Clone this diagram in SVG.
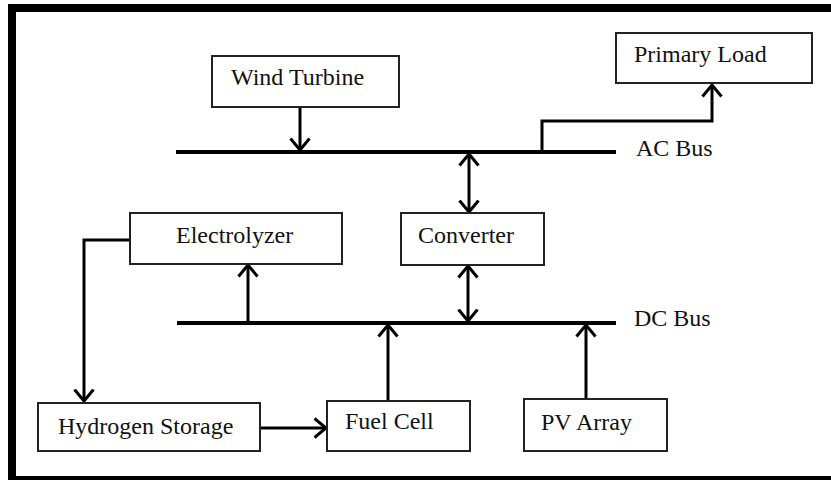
<svg xmlns="http://www.w3.org/2000/svg" width="831" height="480" viewBox="0 0 831 480">
<defs>
<style>
.box{fill:#fff;stroke:#222;stroke-width:2}
.lbl{font-family:"Liberation Serif","Times New Roman",serif;font-size:24px;fill:#111}
.ln{fill:none;stroke:#000;stroke-width:3}
.bus{fill:none;stroke:#000;stroke-width:4}
</style>
<marker id="ah" viewBox="0 0 14 22" refX="12.5" refY="11" markerWidth="14" markerHeight="22" orient="auto-start-reverse" markerUnits="userSpaceOnUse">
<path d="M1 1.5 L12.5 11 L1 20.5" fill="none" stroke="#000" stroke-width="3"/>
</marker>
</defs>
<rect width="831" height="480" fill="#fff"/>
<rect x="12" y="8" width="830" height="472" fill="none" stroke="#000" stroke-width="8"/>

<g id="connectors">
<line class="bus" x1="176" y1="152" x2="616" y2="152"/>
<line class="bus" x1="177" y1="323" x2="616" y2="323"/>
<path class="ln" d="M300 107 V150" marker-end="url(#ah)"/>
<path class="ln" d="M542 152 V121 H712 V85" marker-end="url(#ah)"/>
<path class="ln" d="M469 154 V212" marker-start="url(#ah)" marker-end="url(#ah)"/>
<path class="ln" d="M468 266 V321" marker-start="url(#ah)" marker-end="url(#ah)"/>
<path class="ln" d="M248 322 V265" marker-end="url(#ah)"/>
<path class="ln" d="M130 240 H84 V401" marker-end="url(#ah)"/>
<path class="ln" d="M260 428 H326" marker-end="url(#ah)"/>
<path class="ln" d="M388 401 V325" marker-end="url(#ah)"/>
<path class="ln" d="M586 399 V325" marker-end="url(#ah)"/>
</g>

<g id="wind-turbine">
<rect class="box" x="212" y="56" width="187" height="51"/>
<text class="lbl" x="231" y="85">Wind Turbine</text>
</g>
<g id="primary-load">
<rect class="box" x="616" y="33" width="196" height="50"/>
<text class="lbl" x="634" y="62">Primary Load</text>
</g>
<g id="ac-bus">
<text class="lbl" x="636" y="156">AC Bus</text>
</g>
<g id="electrolyzer">
<rect class="box" x="130" y="213" width="212" height="51"/>
<text class="lbl" x="176" y="243">Electrolyzer</text>
</g>
<g id="converter">
<rect class="box" x="401" y="213" width="143" height="52"/>
<text class="lbl" x="418" y="243">Converter</text>
</g>
<g id="dc-bus">
<text class="lbl" x="634" y="326">DC Bus</text>
</g>
<g id="hydrogen-storage">
<rect class="box" x="38" y="403" width="222" height="48"/>
<text class="lbl" x="58" y="434">Hydrogen Storage</text>
</g>
<g id="fuel-cell">
<rect class="box" x="327" y="401" width="143" height="50"/>
<text class="lbl" x="345" y="429">Fuel Cell</text>
</g>
<g id="pv-array">
<rect class="box" x="524" y="399" width="143" height="52"/>
<text class="lbl" x="541" y="430">PV Array</text>
</g>
</svg>
